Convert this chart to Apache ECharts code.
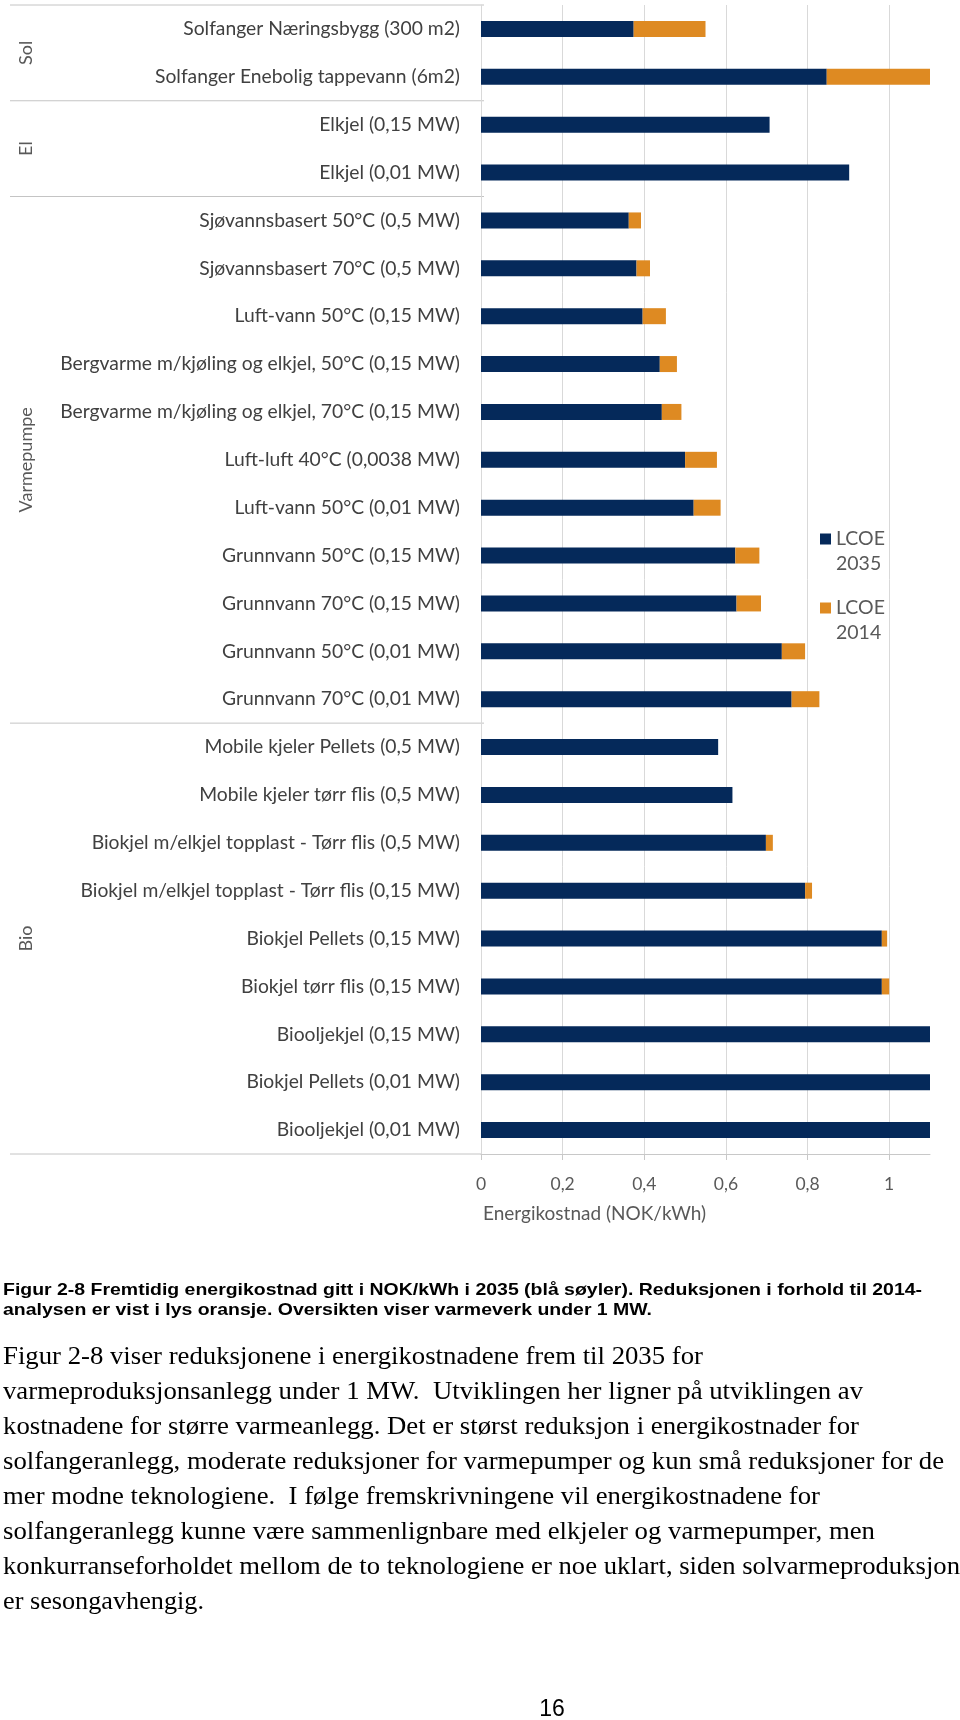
<!DOCTYPE html>
<html><head><meta charset="utf-8">
<script src="https://cdn.jsdelivr.net/npm/echarts@6.0.0/dist/echarts.min.js"></script>
<style>html,body{margin:0;padding:0;background:#fff}#c{width:960px;height:1720px}</style>
</head><body><div id="c"></div>
<script>
const categories = [
  'Solfanger Næringsbygg (300 m2)',
  'Solfanger Enebolig tappevann (6m2)',
  'Elkjel (0,15 MW)',
  'Elkjel (0,01 MW)',
  'Sjøvannsbasert 50°C (0,5 MW)',
  'Sjøvannsbasert 70°C (0,5 MW)',
  'Luft-vann 50°C (0,15 MW)',
  'Bergvarme m/kjøling og elkjel, 50°C (0,15 MW)',
  'Bergvarme m/kjøling og elkjel, 70°C (0,15 MW)',
  'Luft-luft 40°C (0,0038 MW)',
  'Luft-vann 50°C (0,01 MW)',
  'Grunnvann 50°C (0,15 MW)',
  'Grunnvann 70°C (0,15 MW)',
  'Grunnvann 50°C (0,01 MW)',
  'Grunnvann 70°C (0,01 MW)',
  'Mobile kjeler Pellets (0,5 MW)',
  'Mobile kjeler tørr flis (0,5 MW)',
  'Biokjel m/elkjel topplast - Tørr flis (0,5 MW)',
  'Biokjel m/elkjel topplast - Tørr flis (0,15 MW)',
  'Biokjel Pellets (0,15 MW)',
  'Biokjel tørr flis (0,15 MW)',
  'Biooljekjel (0,15 MW)',
  'Biokjel Pellets (0,01 MW)',
  'Biooljekjel (0,01 MW)'
];
const lcoe2035 = [0.374, 0.847, 0.707, 0.902, 0.362, 0.381, 0.396, 0.438, 0.443, 0.500, 0.521, 0.623,
                  0.626, 0.737, 0.761, 0.581, 0.616, 0.698, 0.794, 0.982, 0.982, 1.1, 1.1, 1.1];
const reduction2014 = [0.176, 0.253, 0, 0, 0.030, 0.033, 0.057, 0.042, 0.048, 0.078, 0.066, 0.059,
                       0.060, 0.057, 0.068, 0, 0, 0.017, 0.017, 0.013, 0.018, 0, 0, 0];
const groupNames = ['Sol', 'El', 'Varmepumpe', 'Bio'];
const groupSizes = [2, 2, 11, 9];
const tickValues = [0, 0.2, 0.4, 0.6, 0.8, 1];
const tickLabels = ['0', '0,2', '0,4', '0,6', '0,8', '1'];
const seriesNames = ['LCOE 2035', 'LCOE 2014'];
const axisTitle = 'Energikostnad (NOK/kWh)';
const captionLines = [
  'Figur 2-8 Fremtidig energikostnad gitt i NOK/kWh i 2035 (blå søyler). Reduksjonen i forhold til 2014-',
  'analysen er vist i lys oransje. Oversikten viser varmeverk under 1 MW.'
];
const bodyLines = [
  'Figur 2-8 viser reduksjonene i energikostnadene frem til 2035 for',
  'varmeproduksjonsanlegg under 1 MW.  Utviklingen her ligner på utviklingen av',
  'kostnadene for større varmeanlegg. Det er størst reduksjon i energikostnader for',
  'solfangeranlegg, moderate reduksjoner for varmepumper og kun små reduksjoner for de',
  'mer modne teknologiene.  I følge fremskrivningene vil energikostnadene for',
  'solfangeranlegg kunne være sammenlignbare med elkjeler og varmepumper, men',
  'konkurranseforholdet mellom de to teknologiene er noe uklart, siden solvarmeproduksjon',
  'er sesongavhengig.'
];
const pageNumber = '16';

// layout constants
const COL_BLUE = '#05295a';
const COL_ORANGE = '#de8a22';
const GRID = { left: 481, right: 30, top: 5, bottom: 566 };
const captionRight = [922, 652];
const bodyRight = [703, 863, 859, 944, 820, 875, 960, 204];

const chart = echarts.init(document.getElementById('c'), null, { renderer: 'canvas' });

function tickLabel(v) {
  const i = tickValues.findIndex(t => Math.abs(t - v) < 1e-9);
  return i >= 0 ? tickLabels[i] : '';
}

const legendCommon = {
  orient: 'vertical', left: 820, itemWidth: 11, itemHeight: 11, icon: 'rect', padding: 0,
  formatter: n => '\n' + n.replace(' ', '\n'),
  textStyle: { fontFamily: 'Lato', fontSize: 19.5, color: '#595959', lineHeight: 25 }
};

chart.setOption({
  animation: false,
  backgroundColor: '#fff',
  grid: Object.assign({ outerBoundsMode: 'none' }, GRID),
  legend: [
    Object.assign({ data: [seriesNames[0]], top: 501.5 }, legendCommon),
    Object.assign({ data: [seriesNames[1]], top: 570.5 }, legendCommon)
  ],
  xAxis: {
    type: 'value', min: 0, max: 1.1, interval: 0.2,
    axisLine: { show: true, lineStyle: { color: '#c8c8c8', width: 1 } },
    axisTick: { show: true, length: 6, lineStyle: { color: '#c8c8c8' } },
    axisLabel: { formatter: tickLabel, fontFamily: 'Lato', fontSize: 17.5, color: '#595959', margin: 21, showMaxLabel: false },
    splitLine: { show: true, showMinLine: false, showMaxLine: false, lineStyle: { color: '#d9d9d9', width: 1 } }
  },
  yAxis: {
    type: 'category', data: categories, inverse: true,
    axisLine: { show: true, lineStyle: { color: '#d9d9d9' } },
    axisTick: { show: false },
    axisLabel: { fontFamily: 'Lato', fontSize: 19.3, color: '#404040', margin: 21 }
  },
  series: [
    { name: seriesNames[0], type: 'bar', stack: 'lcoe', data: lcoe2035, barWidth: 16,
      itemStyle: { color: COL_BLUE } },
    { name: seriesNames[1], type: 'bar', stack: 'lcoe', data: reduction2014, barWidth: 16,
      itemStyle: { color: COL_ORANGE } }
  ]
});

// Graphic layer: group separators, group labels, axis title, caption and body text
const ctx = document.createElement('canvas').getContext('2d');
function fit(text, font, width) { ctx.font = font; return width / ctx.measureText(text).width; }

const yPix = i => chart.convertToPixel({ yAxisIndex: 0 }, i);
const band = yPix(1) - yPix(0);
const x0 = chart.convertToPixel({ xAxisIndex: 0 }, 0);
const graphics = [];
let idx = 0;
const sepColor = '#c4c4c4';
graphics.push({ type: 'line', shape: { x1: 10, y1: yPix(0) - band / 2, x2: x0 + 3, y2: yPix(0) - band / 2 },
  style: { stroke: sepColor, lineWidth: 1 } });
groupNames.forEach((g, k) => {
  const start = idx, end = idx + groupSizes[k] - 1;
  const yTop = yPix(start) - band / 2, yBot = yPix(end) + band / 2;
  graphics.push({ type: 'line', shape: { x1: 10, y1: yBot, x2: (k === groupNames.length - 1 ? x0 : x0 + 3), y2: yBot },
    style: { stroke: sepColor, lineWidth: 1 } });
  graphics.push({ type: 'text', x: 26, y: (yTop + yBot) / 2, rotation: Math.PI / 2,
    style: { text: g, font: '18px Lato', fill: '#595959', align: 'center', verticalAlign: 'middle' } });
  idx += groupSizes[k];
});
graphics.push({ type: 'text', x: x0 + 2, y: 1214,
  style: { text: axisTitle, font: '19px Lato', fill: '#595959', align: 'left', verticalAlign: 'middle' } });

const capFont = 'bold 16.5px "Liberation Sans"';
captionLines.forEach((t, i) => {
  graphics.push({ type: 'text', x: 3, y: 1290.5 + i * 19.5, scaleX: fit(t, capFont, captionRight[i] - 3),
    style: { text: t, font: capFont, fill: '#000', align: 'left', verticalAlign: 'middle' } });
});
const bodyFont = '25px "Liberation Serif"';
bodyLines.forEach((t, i) => {
  graphics.push({ type: 'text', x: 3, y: 1357 + i * 35, scaleX: fit(t, bodyFont, bodyRight[i] - 3),
    style: { text: t, font: bodyFont, fill: '#000', align: 'left', verticalAlign: 'middle' } });
});
graphics.push({ type: 'text', x: 552, y: 1710,
  style: { text: pageNumber, font: '23px "Liberation Sans"', fill: '#000', align: 'center', verticalAlign: 'middle' } });

chart.setOption({ graphic: { elements: graphics } });
</script></body></html>
